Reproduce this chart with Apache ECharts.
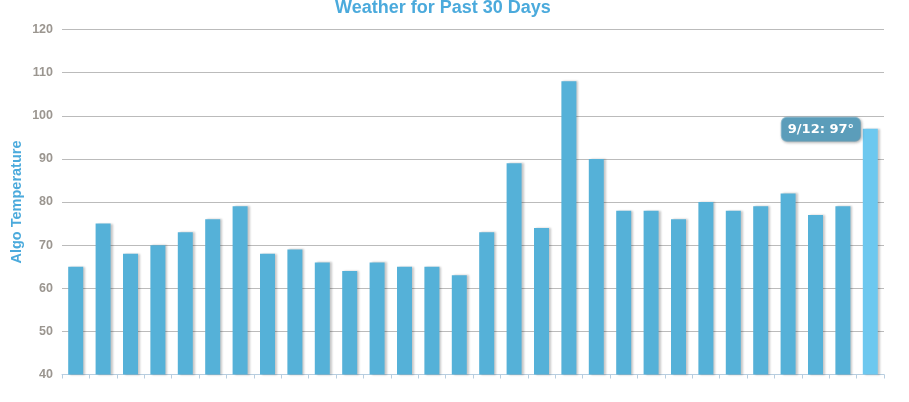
<!DOCTYPE html>
<html>
<head>
<meta charset="utf-8">
<script src="https://cdn.jsdelivr.net/npm/echarts@6/dist/echarts.min.js"></script>
<style>
html,body{margin:0;padding:0;background:#fff;}
#chart{width:909px;height:402px;}
</style>
</head>
<body>
<div id="chart"></div>
<script>
var titleText = 'Weather for Past 30 Days';
var yAxisName = 'Algo Temperature';
var days = ['8/14','8/15','8/16','8/17','8/18','8/19','8/20','8/21','8/22','8/23',
            '8/24','8/25','8/26','8/27','8/28','8/29','8/30','8/31','9/1','9/2',
            '9/3','9/4','9/5','9/6','9/7','9/8','9/9','9/10','9/11','9/12'];
var temps = [65,75,68,70,73,76,79,68,69,66,
             64,66,65,65,63,73,89,74,108,90,
             78,78,76,80,78,79,82,77,79,97];
var yTicks = {min: 40, max: 120, interval: 10};
var highlightIndex = 29;

var seriesData = temps.map(function (v, i) {
  if (i !== highlightIndex) return v;
  return {
    value: v,
    itemStyle: {color: '#6DC8EF'},
    label: {
      show: true,
      position: [-81, -11],
      formatter: function (p) { return days[p.dataIndex] + ': ' + p.value + '°'; },
      color: '#fff',
      fontFamily: 'DejaVu Sans',
      fontWeight: 'bold',
      fontSize: 13,
      backgroundColor: '#5B9DBA',
      borderColor: '#8fc0d6',
      borderWidth: 1,
      borderRadius: 5,
      padding: [5, 6, 5, 6],
      shadowColor: 'rgba(0,0,0,0.25)',
      shadowBlur: 3,
      shadowOffsetX: 1,
      shadowOffsetY: 1
    }
  };
});

var chart = echarts.init(document.getElementById('chart'), null, {renderer: 'canvas'});
chart.setOption({
  animation: false,
  backgroundColor: '#fff',
  title: {
    text: titleText,
    left: 330,
    top: -6,
    textStyle: {color: '#4BAADC', fontFamily: 'Liberation Sans', fontWeight: 'bold', fontSize: 18}
  },
  grid: {left: 62, right: 25, top: 29.5, bottom: 27.5, containLabel: false, outerBoundsMode: 'none'},
  xAxis: {
    type: 'category',
    data: days,
    axisLine: {lineStyle: {color: '#B8CEE0', width: 1}},
    axisTick: {show: true, interval: 0, length: 4, lineStyle: {color: '#B8CEE0'}},
    axisLabel: {show: false, interval: 0},
    splitLine: {show: false}
  },
  yAxis: {
    type: 'value',
    min: yTicks.min,
    max: yTicks.max,
    interval: yTicks.interval,
    name: yAxisName,
    nameLocation: 'middle',
    nameGap: 38,
    nameMoveOverlap: false,
    nameTextStyle: {color: '#4BAADC', fontFamily: 'Liberation Sans', fontWeight: 'bold', fontSize: 14.5},
    axisLine: {show: false},
    axisTick: {show: false},
    axisLabel: {color: '#9B9690', fontFamily: 'Liberation Sans', fontWeight: 'bold', fontSize: 12.5, margin: 9},
    splitLine: {lineStyle: {color: '#BBBBBB', width: 1}}
  },
  series: [{
    type: 'bar',
    data: seriesData,
    barWidth: 15,
    itemStyle: {
      color: '#55B1D8',
      shadowColor: 'rgba(0,0,0,0.22)',
      shadowBlur: 2,
      shadowOffsetX: 2,
      shadowOffsetY: 0
    }
  }]
});
</script>
</body>
</html>
